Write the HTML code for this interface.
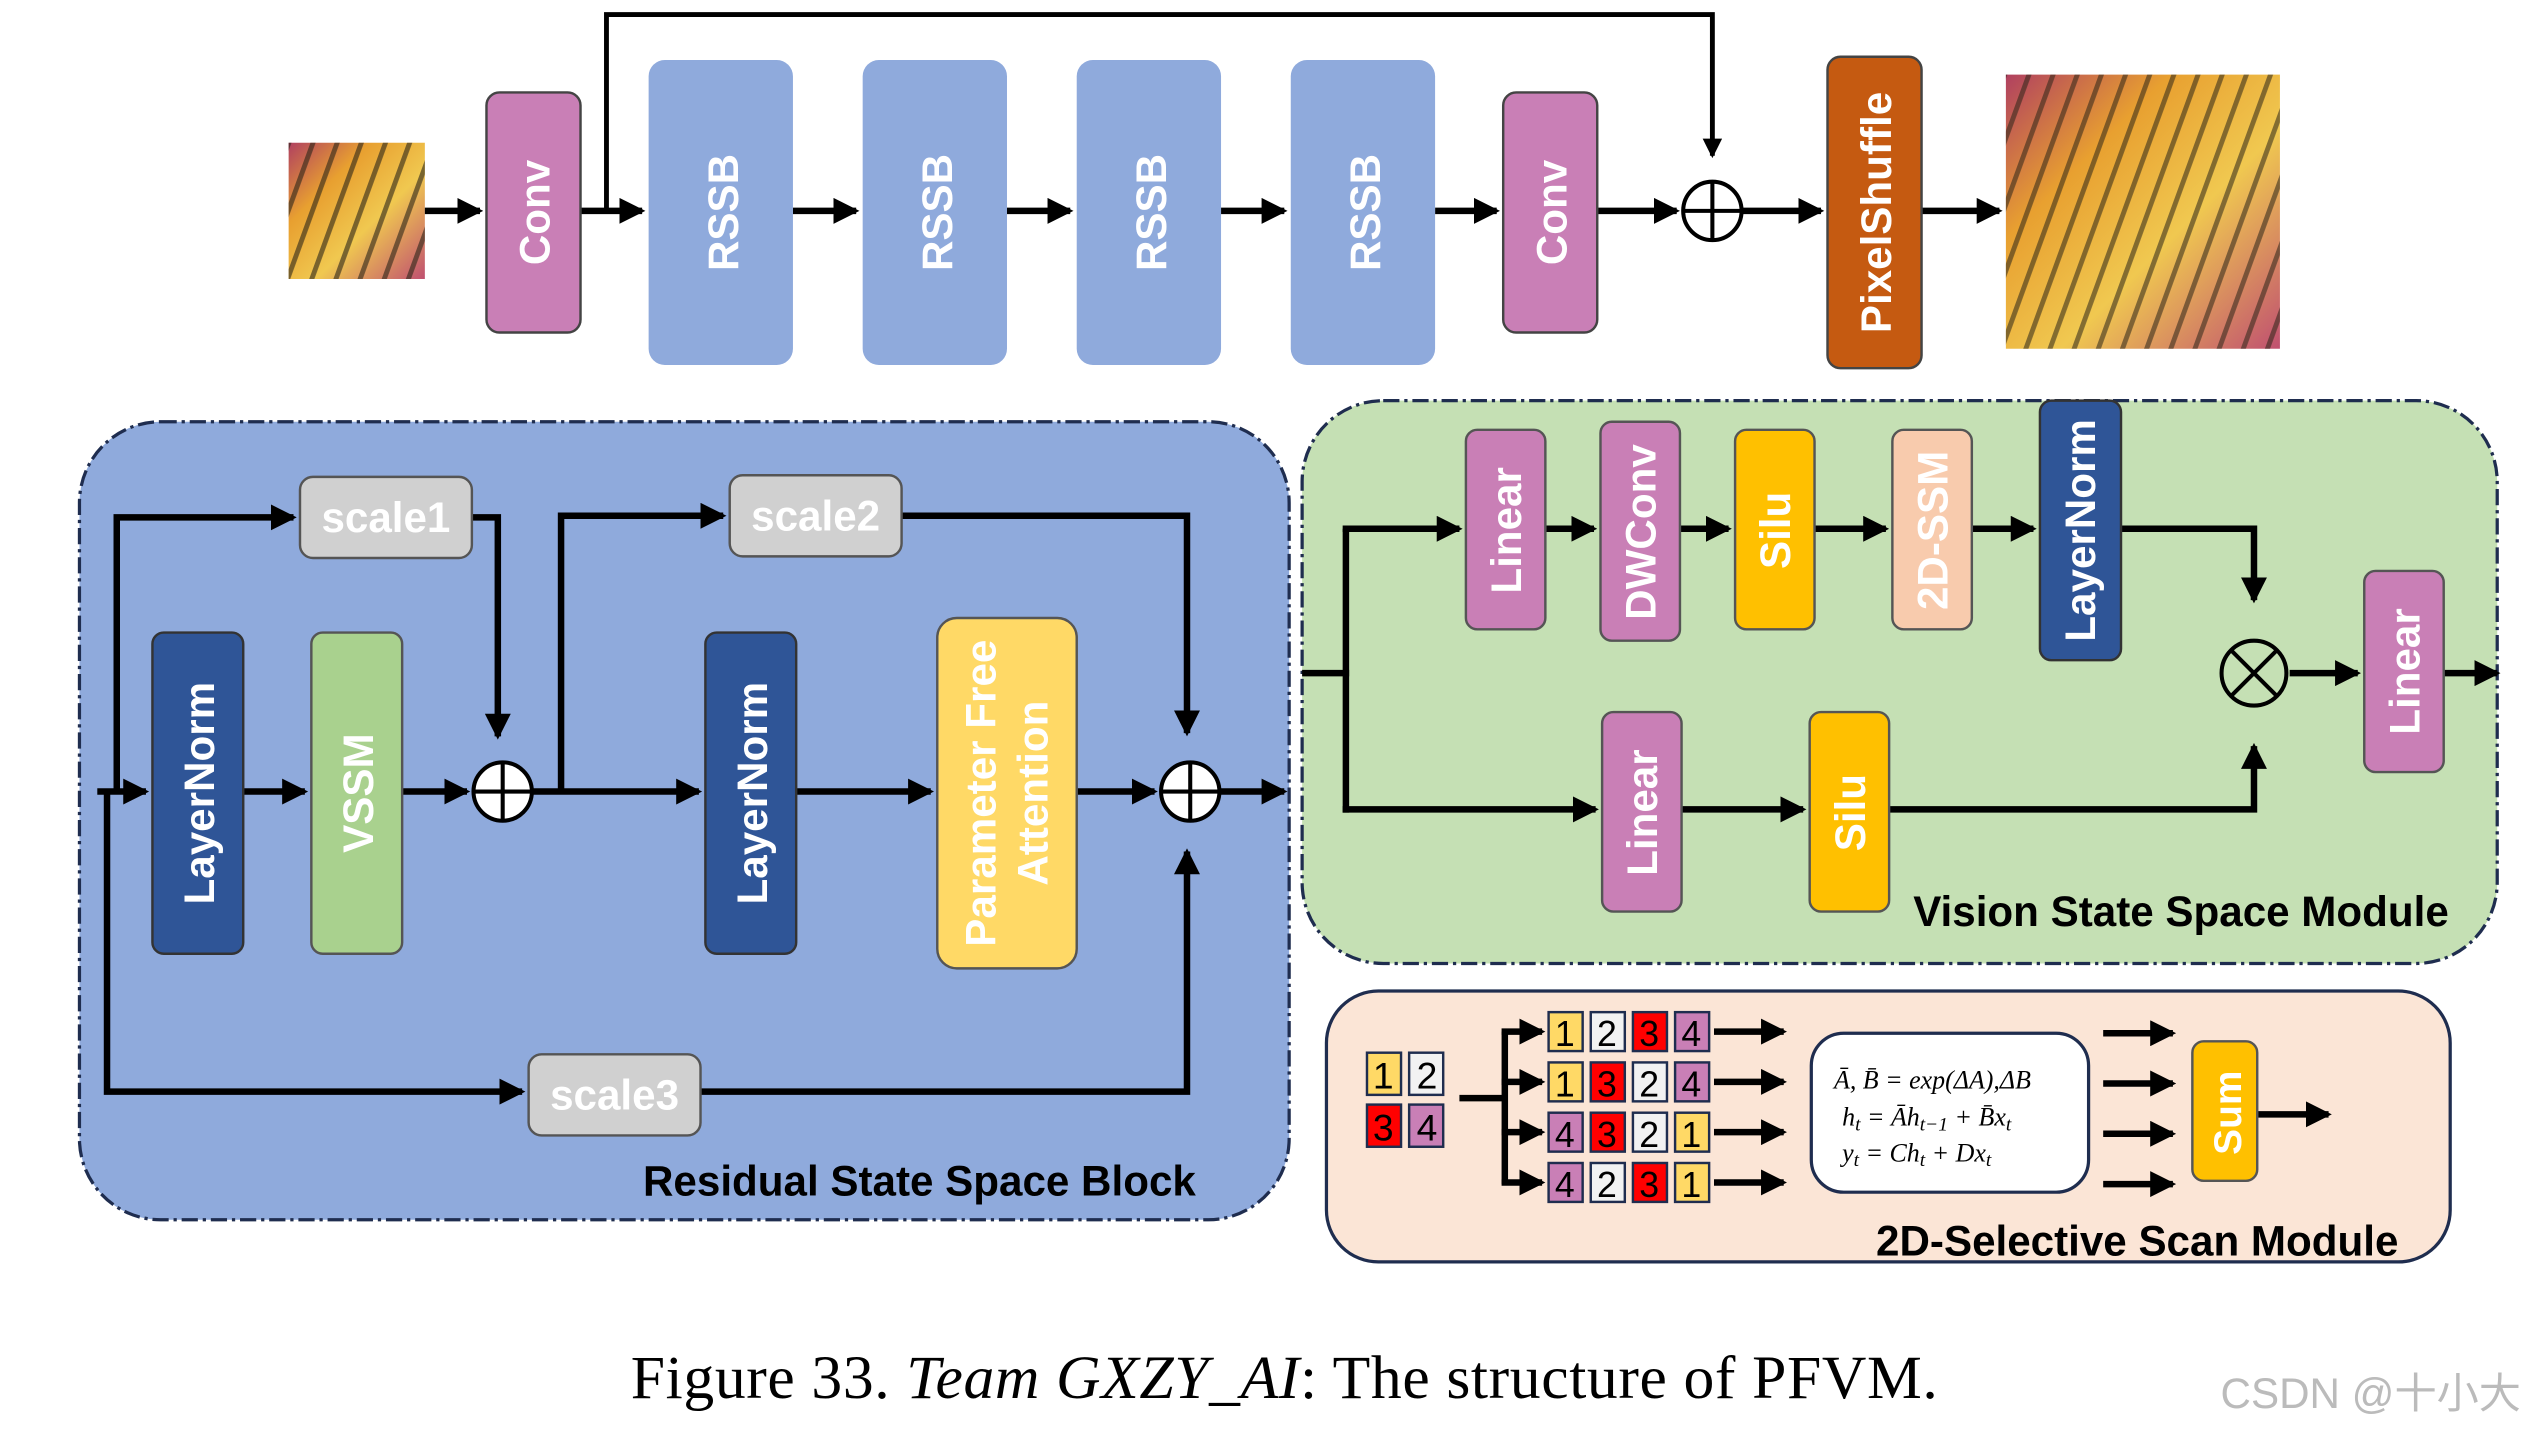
<!DOCTYPE html>
<html><head><meta charset="utf-8"><style>html,body{margin:0;padding:0;background:#fff}svg{display:block}</style></head><body>
<svg width="2541" height="1429" viewBox="0 0 1567 881" preserveAspectRatio="none" xmlns="http://www.w3.org/2000/svg" font-family="Liberation Sans, sans-serif">
<defs>
<marker id="a" markerWidth="4" markerHeight="4" refX="3.5" refY="2" orient="auto" markerUnits="strokeWidth"><path d="M0,0 L4,2 L0,4 z" fill="#000"/></marker>
<linearGradient id="bf" x1="0" y1="0" x2="1" y2="1"><stop offset="0" stop-color="#b04060"/><stop offset="0.3" stop-color="#e8a030"/><stop offset="0.6" stop-color="#f0c850"/><stop offset="1" stop-color="#c05070"/></linearGradient>
<pattern id="vein" width="14" height="14" patternUnits="userSpaceOnUse" patternTransform="rotate(20)"><rect width="14" height="14" fill="none"/><rect width="3" height="14" fill="#2a2418"/></pattern>
</defs>
<g stroke="none">
<rect x="178" y="88" width="84" height="84" fill="url(#bf)"/><rect x="178" y="88" width="84" height="84" fill="url(#vein)" opacity="0.6"/>
<rect x="1237" y="46" width="169" height="169" fill="url(#bf)"/><rect x="1237" y="46" width="169" height="169" fill="url(#vein)" opacity="0.55"/>
</g>
<g stroke="#000" stroke-width="4" fill="none">
<line x1="262" y1="130" x2="296" y2="130" marker-end="url(#a)"/>
<line x1="358" y1="130" x2="396" y2="130" marker-end="url(#a)"/>
<line x1="489" y1="130" x2="528" y2="130" marker-end="url(#a)"/>
<line x1="621" y1="130" x2="660" y2="130" marker-end="url(#a)"/>
<line x1="753" y1="130" x2="792" y2="130" marker-end="url(#a)"/>
<line x1="885" y1="130" x2="923" y2="130" marker-end="url(#a)"/>
<line x1="985" y1="130" x2="1034" y2="130" marker-end="url(#a)"/>
<line x1="1074" y1="130" x2="1123" y2="130" marker-end="url(#a)"/>
<line x1="1185" y1="130" x2="1233" y2="130" marker-end="url(#a)"/>
<polyline points="374,130 374,9 1056,9 1056,96" stroke-width="3" marker-end="url(#a)"/>
</g>
<g font-weight="bold" fill="#fff" font-size="26" text-anchor="middle">
<rect x="300" y="57" width="58" height="148" rx="8" fill="#C97FB6" stroke="#444" stroke-width="1.5"/>
<text transform="translate(339,131) rotate(-90)" fill="#fff">Conv</text>
<rect x="400" y="37" width="89" height="188" rx="10" fill="#8FAADC"/>
<rect x="532" y="37" width="89" height="188" rx="10" fill="#8FAADC"/>
<rect x="664" y="37" width="89" height="188" rx="10" fill="#8FAADC"/>
<rect x="796" y="37" width="89" height="188" rx="10" fill="#8FAADC"/>
<text transform="translate(455,131) rotate(-90)">RSSB</text>
<text transform="translate(587,131) rotate(-90)">RSSB</text>
<text transform="translate(719,131) rotate(-90)">RSSB</text>
<text transform="translate(851,131) rotate(-90)">RSSB</text>
<rect x="927" y="57" width="58" height="148" rx="8" fill="#C97FB6" stroke="#444" stroke-width="1.5"/>
<text transform="translate(966,131) rotate(-90)">Conv</text>
<rect x="1127" y="35" width="58" height="192" rx="8" fill="#C55A11" stroke="#444" stroke-width="1.5"/>
<text transform="translate(1166,131) rotate(-90)">PixelShuffle</text>
</g>
<g stroke="#000" stroke-width="2.5" fill="#fff"><circle cx="1056" cy="130" r="18"/><path d="M1038,130 H1074 M1056,112 V148"/></g>

<rect x="49" y="260" width="746" height="492" rx="50" fill="#8FAADC" stroke="#1F2D4F" stroke-width="2" stroke-dasharray="10,3,2,3"/>
<g stroke="#000" stroke-width="4" fill="none">
<line x1="60" y1="488" x2="90" y2="488" marker-end="url(#a)"/>
<line x1="150" y1="488" x2="188" y2="488" marker-end="url(#a)"/>
<line x1="248" y1="488" x2="288" y2="488" marker-end="url(#a)"/>
<line x1="328" y1="488" x2="431" y2="488" marker-end="url(#a)"/>
<line x1="491" y1="488" x2="574" y2="488" marker-end="url(#a)"/>
<line x1="664" y1="488" x2="712" y2="488" marker-end="url(#a)"/>
<line x1="752" y1="488" x2="792" y2="488" marker-end="url(#a)"/>
<polyline points="72,488 72,319 181,319" marker-end="url(#a)"/>
<polyline points="291,319 307,319 307,454" marker-end="url(#a)"/>
<polyline points="346,488 346,318 446,318" marker-end="url(#a)"/>
<polyline points="556,318 732,318 732,452" marker-end="url(#a)"/>
<polyline points="66,488 66,673 322,673" marker-end="url(#a)"/>
<polyline points="432,673 732,673 732,525" marker-end="url(#a)"/>
</g>
<g stroke="#000" stroke-width="2.5" fill="#fff"><circle cx="310" cy="488" r="18"/><path d="M292,488 H328 M310,470 V506"/><circle cx="734" cy="488" r="18"/><path d="M716,488 H752 M734,470 V506"/></g>
<g font-weight="bold" fill="#fff" font-size="26" text-anchor="middle">
<rect x="94" y="390" width="56" height="198" rx="7" fill="#2F5597" stroke="#333" stroke-width="1.5"/>
<text transform="translate(132,489) rotate(-90)">LayerNorm</text>
<rect x="192" y="390" width="56" height="198" rx="7" fill="#A9D18E" stroke="#555" stroke-width="1.5"/>
<text transform="translate(230,489) rotate(-90)">VSSM</text>
<rect x="435" y="390" width="56" height="198" rx="7" fill="#2F5597" stroke="#333" stroke-width="1.5"/>
<text transform="translate(473,489) rotate(-90)">LayerNorm</text>
<rect x="578" y="381" width="86" height="216" rx="12" fill="#FFD966" stroke="#555" stroke-width="1.5"/>
<text transform="translate(614,489) rotate(-90)">Parameter Free</text>
<text transform="translate(646,489) rotate(-90)">Attention</text>
<rect x="185" y="294" width="106" height="50" rx="8" fill="#D0D0D0" stroke="#555" stroke-width="1.5"/>
<text x="238" y="328">scale1</text>
<rect x="450" y="293" width="106" height="50" rx="8" fill="#D0D0D0" stroke="#555" stroke-width="1.5"/>
<text x="503" y="327">scale2</text>
<rect x="326" y="650" width="106" height="50" rx="8" fill="#D0D0D0" stroke="#555" stroke-width="1.5"/>
<text x="379" y="684">scale3</text>
</g>
<text x="567" y="737" font-size="26" font-weight="bold" text-anchor="middle" fill="#000">Residual State Space Block</text>

<rect x="803" y="247" width="737" height="347" rx="50" fill="#C5E0B4" stroke="#1F2D4F" stroke-width="2" stroke-dasharray="10,3,2,3"/>
<g stroke="#000" stroke-width="4" fill="none">
<line x1="803" y1="415" x2="832" y2="415"/>
<line x1="830" y1="326" x2="830" y2="501"/>
<line x1="828" y1="326" x2="900" y2="326" marker-end="url(#a)"/>
<line x1="953" y1="326" x2="983" y2="326" marker-end="url(#a)"/>
<line x1="1036" y1="326" x2="1066" y2="326" marker-end="url(#a)"/>
<line x1="1119" y1="326" x2="1163" y2="326" marker-end="url(#a)"/>
<line x1="1216" y1="326" x2="1254" y2="326" marker-end="url(#a)"/>
<polyline points="1308,326 1390,326 1390,370" marker-end="url(#a)"/>
<line x1="828" y1="499" x2="984" y2="499" marker-end="url(#a)"/>
<line x1="1037" y1="499" x2="1112" y2="499" marker-end="url(#a)"/>
<polyline points="1165,499 1390,499 1390,460" marker-end="url(#a)"/>
<line x1="1412" y1="415" x2="1454" y2="415" marker-end="url(#a)"/>
<line x1="1507" y1="415" x2="1540" y2="415" marker-end="url(#a)"/>
</g>
<g stroke="#000" stroke-width="2.5" fill="none"><circle cx="1390" cy="415" r="20"/><path d="M1376,401 L1404,429 M1404,401 L1376,429"/></g>
<g font-weight="bold" fill="#fff" font-size="26" text-anchor="middle">
<rect x="904" y="265" width="49" height="123" rx="7" fill="#C97FB6" stroke="#555" stroke-width="1.5"/>
<text transform="translate(938,327) rotate(-90)">Linear</text>
<rect x="987" y="260" width="49" height="135" rx="7" fill="#C97FB6" stroke="#555" stroke-width="1.5"/>
<text transform="translate(1021,328) rotate(-90)">DWConv</text>
<rect x="1070" y="265" width="49" height="123" rx="7" fill="#FFC000" stroke="#555" stroke-width="1.5"/>
<text transform="translate(1104,327) rotate(-90)">Silu</text>
<rect x="1167" y="265" width="49" height="123" rx="7" fill="#F8CBAD" stroke="#555" stroke-width="1.5"/>
<text transform="translate(1201,327) rotate(-90)">2D-SSM</text>
<rect x="1258" y="247" width="50" height="160" rx="7" fill="#2F5597" stroke="#333" stroke-width="1.5"/>
<text transform="translate(1292,327) rotate(-90)">LayerNorm</text>
<rect x="1458" y="352" width="49" height="124" rx="7" fill="#C97FB6" stroke="#555" stroke-width="1.5"/>
<text transform="translate(1492,414) rotate(-90)">Linear</text>
<rect x="988" y="439" width="49" height="123" rx="7" fill="#C97FB6" stroke="#555" stroke-width="1.5"/>
<text transform="translate(1022,501) rotate(-90)">Linear</text>
<rect x="1116" y="439" width="49" height="123" rx="7" fill="#FFC000" stroke="#555" stroke-width="1.5"/>
<text transform="translate(1150,501) rotate(-90)">Silu</text>
</g>
<text x="1345" y="571" font-size="26" font-weight="bold" text-anchor="middle" fill="#000">Vision State Space Module</text>

<rect x="818" y="611" width="693" height="167" rx="32" fill="#FBE5D6" stroke="#1F2D4F" stroke-width="2"/>
<g stroke="#1F2D4F" stroke-width="1.5">
<rect x="843" y="649" width="21" height="26" fill="#FFD966"/><rect x="869" y="649" width="21" height="26" fill="#F2F2F2"/>
<rect x="843" y="681" width="21" height="26" fill="#FF0000"/><rect x="869" y="681" width="21" height="26" fill="#C97FB6"/>
</g>
<g font-size="23" text-anchor="middle" fill="#000">
<text x="853" y="671">1</text><text x="880" y="671">2</text><text x="853" y="703">3</text><text x="880" y="703">4</text>
</g>
<g stroke="#000" stroke-width="4" fill="none">
<polyline points="900,677 928,677"/>
<line x1="928" y1="636" x2="928" y2="730"/>
<line x1="926" y1="636" x2="951" y2="636" marker-end="url(#a)"/>
<line x1="926" y1="667" x2="951" y2="667" marker-end="url(#a)"/>
<line x1="926" y1="698" x2="951" y2="698" marker-end="url(#a)"/>
<line x1="926" y1="729" x2="951" y2="729" marker-end="url(#a)"/>
<line x1="1057" y1="636" x2="1100" y2="636" marker-end="url(#a)"/>
<line x1="1057" y1="667" x2="1100" y2="667" marker-end="url(#a)"/>
<line x1="1057" y1="698" x2="1100" y2="698" marker-end="url(#a)"/>
<line x1="1057" y1="729" x2="1100" y2="729" marker-end="url(#a)"/>
<line x1="1297" y1="637" x2="1340" y2="637" marker-end="url(#a)"/>
<line x1="1297" y1="668" x2="1340" y2="668" marker-end="url(#a)"/>
<line x1="1297" y1="699" x2="1340" y2="699" marker-end="url(#a)"/>
<line x1="1297" y1="730" x2="1340" y2="730" marker-end="url(#a)"/>
<line x1="1392" y1="687" x2="1436" y2="687" marker-end="url(#a)"/>
</g>
<g stroke="#1F2D4F" stroke-width="1.5">
<rect x="955" y="624" width="21" height="24" fill="#FFD966"/><rect x="981" y="624" width="21" height="24" fill="#F2F2F2"/><rect x="1007" y="624" width="21" height="24" fill="#FF0000"/><rect x="1033" y="624" width="21" height="24" fill="#C97FB6"/>
<rect x="955" y="655" width="21" height="24" fill="#FFD966"/><rect x="981" y="655" width="21" height="24" fill="#FF0000"/><rect x="1007" y="655" width="21" height="24" fill="#F2F2F2"/><rect x="1033" y="655" width="21" height="24" fill="#C97FB6"/>
<rect x="955" y="686" width="21" height="24" fill="#C97FB6"/><rect x="981" y="686" width="21" height="24" fill="#FF0000"/><rect x="1007" y="686" width="21" height="24" fill="#F2F2F2"/><rect x="1033" y="686" width="21" height="24" fill="#FFD966"/>
<rect x="955" y="717" width="21" height="24" fill="#C97FB6"/><rect x="981" y="717" width="21" height="24" fill="#F2F2F2"/><rect x="1007" y="717" width="21" height="24" fill="#FF0000"/><rect x="1033" y="717" width="21" height="24" fill="#FFD966"/>
</g>
<g font-size="22" text-anchor="middle" fill="#000">
<text x="965" y="645">1</text><text x="991" y="645">2</text><text x="1017" y="645">3</text><text x="1043" y="645">4</text>
<text x="965" y="676">1</text><text x="991" y="676">3</text><text x="1017" y="676">2</text><text x="1043" y="676">4</text>
<text x="965" y="707">4</text><text x="991" y="707">3</text><text x="1017" y="707">2</text><text x="1043" y="707">1</text>
<text x="965" y="738">4</text><text x="991" y="738">2</text><text x="1017" y="738">3</text><text x="1043" y="738">1</text>
</g>
<rect x="1117" y="637" width="171" height="98" rx="20" fill="#fff" stroke="#1F2D4F" stroke-width="2"/>
<g font-family="Liberation Serif, serif" font-style="italic" font-size="16" fill="#000">
<text x="1131" y="671">Ā, B̄ = exp(ΔA),ΔB</text>
<text x="1136" y="694">h<tspan font-size="12" dy="3">t</tspan><tspan dy="-3"> = Āh</tspan><tspan font-size="12" dy="3">t−1</tspan><tspan dy="-3"> + B̄x</tspan><tspan font-size="12" dy="3">t</tspan></text>
<text x="1136" y="716">y<tspan font-size="12" dy="3">t</tspan><tspan dy="-3"> = Ch</tspan><tspan font-size="12" dy="3">t</tspan><tspan dy="-3"> + Dx</tspan><tspan font-size="12" dy="3">t</tspan></text>
</g>
<rect x="1352" y="642" width="40" height="86" rx="7" fill="#FFC000" stroke="#555" stroke-width="1.5"/>
<text transform="translate(1382,686) rotate(-90)" font-size="24" font-weight="bold" fill="#fff" text-anchor="middle">Sum</text>
<text x="1318" y="774" font-size="26" font-weight="bold" text-anchor="middle" fill="#000">2D-Selective Scan Module</text>

<text x="792" y="862" font-family="Liberation Serif, serif" font-size="38" text-anchor="middle" fill="#000" textLength="806">Figure 33. <tspan font-style="italic">Team GXZY_AI</tspan>: The structure of PFVM.</text>
<text x="1462" y="868" font-family="Liberation Sans, 'Noto Sans CJK SC', sans-serif" font-size="26" text-anchor="middle" fill="#bbb">CSDN @十小大</text>
</svg>
</body></html>
